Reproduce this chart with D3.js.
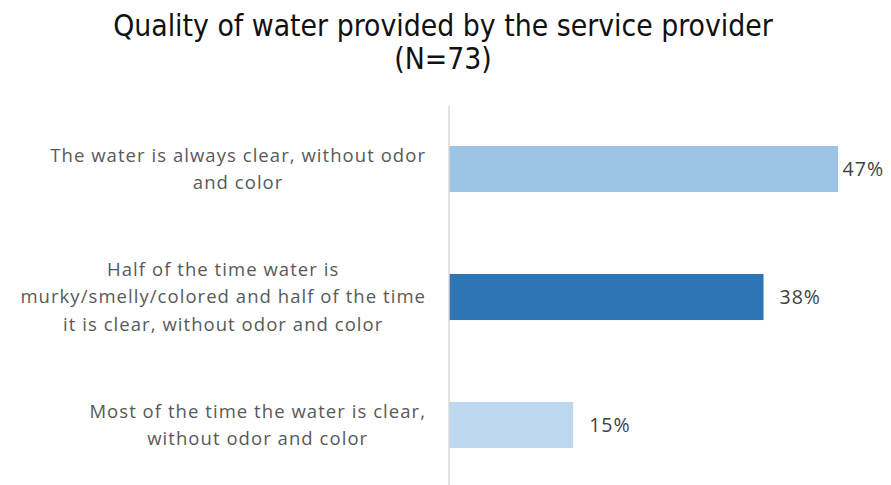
<!DOCTYPE html>
<html>
<head>
<meta charset="utf-8">
<script src="https://cdn.jsdelivr.net/npm/d3@7"></script>
<style>
  html, body { margin: 0; padding: 0; background: #fff; }
  svg { display: block; }
</style>
</head>
<body>
<svg id="chart" width="891" height="485"></svg>
<script>
// Survey answers (N=73)
const categories = [
  ["The water is always clear, without odor", "and color"],
  ["Half of the time water is", "murky/smelly/colored and half of the time", "it is clear, without odor and color"],
  ["Most of the time the water is clear,", "without odor and color"]
];
const values = [47, 38, 15];
const valueLabels = ["47%", "38%", "15%"];
const barColors = ["#9DC3E6", "#2E75B6", "#BDD7EE"];
const titleLines = ["Quality of water provided by the service provider", "(N=73)"];

const W = 891, H = 485;
const svg = d3.select("#chart");

const x = d3.scaleLinear().domain([0, 47]).range([449, 838]);
const y = d3.scaleBand().domain(d3.range(categories.length)).range([105, 489]).paddingInner(0.64).paddingOuter(0.32);

// Title
const title = svg.append("text")
  .attr("x", 443).attr("y", 36)
  .attr("text-anchor", "middle")
  .style("font-family", "'DejaVu Sans Condensed', 'DejaVu Sans', sans-serif")
  .style("font-size", "29.8px")
  .style("fill", "#111");
titleLines.forEach((t, i) => {
  title.append("tspan").attr("x", 443).attr("dy", i === 0 ? 0 : 33).text(t);
});

// Bars
svg.selectAll("rect.bar")
  .data(values)
  .join("rect")
  .attr("class", "bar")
  .attr("x", x(0))
  .attr("y", (d, i) => y(i))
  .attr("width", d => x(d) - x(0))
  .attr("height", y.bandwidth())
  .attr("fill", (d, i) => barColors[i]);

// Vertical category axis line
const yAxis = d3.axisLeft(y).tickSize(0).tickFormat("");
const gy = svg.append("g").attr("transform", `translate(${x(0) - 0.5},0)`).call(yAxis);
gy.select(".domain").attr("stroke", "#D9D9D9").attr("stroke-width", 1.5);

// Category labels: block right-aligned to the axis, lines centred within block
const labelFont = "'Open Sans', sans-serif";
const lineH = 27.5;
const labelRight = 426;
categories.forEach((lines, i) => {
  const g = svg.append("g");
  const cy = y(i) + y.bandwidth() / 2;
  const texts = lines.map((ln, j) =>
    g.append("text")
      .attr("text-anchor", "middle")
      .attr("y", cy + (j - (lines.length - 1) / 2) * lineH)
      .attr("dy", "0.35em")
      .style("font-family", labelFont)
      .style("font-size", "18.5px")
      .style("letter-spacing", "1.05px")
      .style("fill", "#595959")
      .text(ln));
  const maxW = d3.max(texts, t => t.node().getComputedTextLength());
  texts.forEach(t => t.attr("x", labelRight - maxW / 2));
});

// Value labels
svg.selectAll("text.val")
  .data(values)
  .join("text")
  .attr("class", "val")
  .attr("y", (d, i) => y(i) + y.bandwidth() / 2)
  .attr("dy", "0.35em")
  .style("font-family", labelFont)
  .style("font-size", "19.5px")
  .style("letter-spacing", "1px")
  .style("fill", "#404040")
  .text((d, i) => valueLabels[i])
  .each(function (d) {
    const w = this.getComputedTextLength();
    const xPos = Math.min(x(d) + 16, W - 7 - w);
    d3.select(this).attr("x", xPos);
  });
</script>
</body>
</html>
